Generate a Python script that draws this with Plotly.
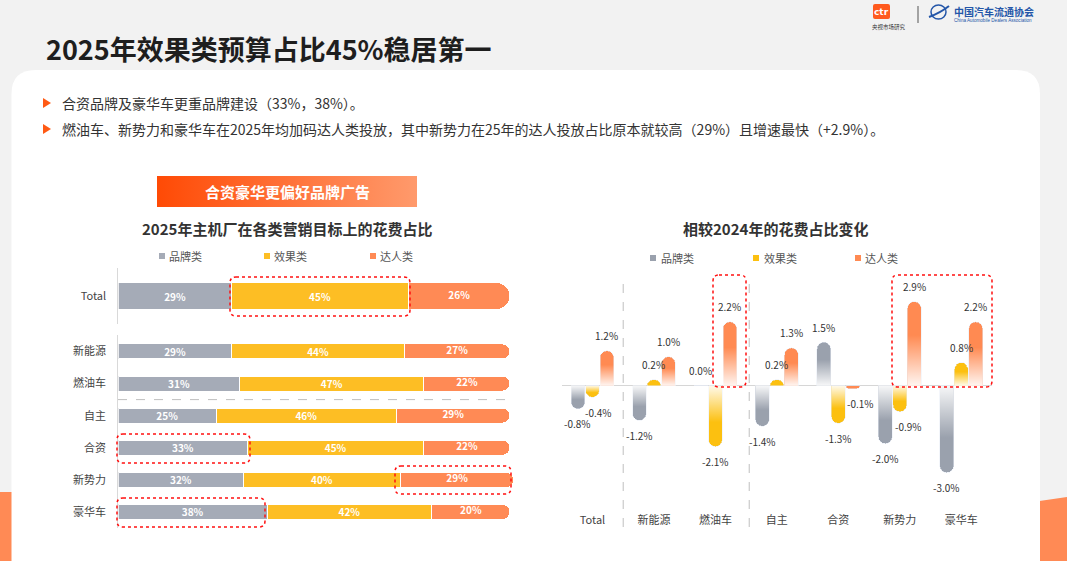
import plotly.graph_objects as go

W, H = 1067, 561

# left chart: share of spend per marketing goal (2025)
series = ["品牌类", "效果类", "达人类"]
total_label = ["Total"]
total_share = [29, 45, 26]
seg_cats = ["新能源", "燃油车", "自主", "合资", "新势力", "豪华车"]
brand_share = [29, 31, 25, 33, 32, 38]
perf_share = [44, 47, 46, 45, 40, 42]
kol_share = [27, 22, 29, 22, 29, 20]

# right chart: change vs 2024 (percentage points)
change_cats = ["Total", "新能源", "燃油车", "自主", "合资", "新势力", "豪华车"]
brand_change = [-0.8, -1.2, 0.0, -1.4, 1.5, -2.0, -3.0]
perf_change = [-0.4, 0.2, -2.1, 0.2, -1.3, -0.9, 0.8]
kol_change = [1.2, 1.0, 2.2, 1.3, -0.1, 2.9, 2.2]

FONT = "Noto Sans CJK SC"
left_colors = ["#a5abb7", "#fdbe24", "#ff8a55"]
right_colors = ["#9aa1ad", "#fcc010", "#ff8a52"]
# small sideways nudges of a few crowded value labels (series, category) -> px
label_nudge = {(1, 0): 6, (2, 4): 8, (1, 5): 9}


def px(x):
    return x / W


def py(y):
    return 1 - y / H


def rrect(x0, y0, x1, y1, r):
    # rounded rectangle, pixel coords -> paper path
    def p(x, y):
        return f"{px(x):.5f},{py(y):.5f}"
    return (f"M{p(x0 + r, y0)} L{p(x1 - r, y0)} Q{p(x1, y0)} {p(x1, y0 + r)} "
            f"L{p(x1, y1 - r)} Q{p(x1, y1)} {p(x1 - r, y1)} L{p(x0 + r, y1)} "
            f"Q{p(x0, y1)} {p(x0, y1 - r)} L{p(x0, y0 + r)} Q{p(x0, y0)} {p(x0 + r, y0)} Z")


fig = go.Figure()
label_font = dict(color="white", size=10, family=FONT)
annotations = []


def stacked_rows(cats, shares, width, xa, ya):
    for i, (name, vals) in enumerate(zip(series, shares)):
        mk = dict(color=left_colors[i], line=dict(color="white", width=1))
        if i == 2:
            # rounded end shrinks inside text, so the last segment is labelled separately
            mk["cornerradius"] = "50%"
        fig.add_trace(go.Bar(
            y=cats, x=vals, orientation="h", name=name, marker=mk, width=width,
            texttemplate="<b>%{x}%</b>" if i < 2 else None,
            textposition="inside" if i < 2 else "none", insidetextanchor="middle",
            textfont=label_font, constraintext="none",
            xaxis=xa, yaxis=ya, showlegend=False, hoverinfo="skip"))
    mids = [a + b + c / 2 for a, b, c in zip(*shares)]
    fig.add_trace(go.Scatter(
        x=mids, y=cats, mode="text", text=[f"<b>{v}%</b>" for v in shares[2]],
        textfont=label_font, xaxis=xa, yaxis=ya, showlegend=False, hoverinfo="skip"))


stacked_rows(total_label, [[total_share[0]], [total_share[1]], [total_share[2]]], 0.48, "x", "y")
stacked_rows(seg_cats, [brand_share, perf_share, kol_share], 0.47, "x2", "y2")

# ---- right chart, grouped change bars
offsets = [-0.236, 0.0, 0.236]
bw = 0.225
all_changes = [brand_change, perf_change, kol_change]
for i, (name, vals) in enumerate(zip(series, all_changes)):
    xs = [k + offsets[i] for k in range(len(change_cats))]
    fig.add_trace(go.Bar(
        x=xs, y=vals, name=name, width=bw,
        marker=dict(color=right_colors[i], cornerradius="50%"),
        xaxis="x3", yaxis="y3", showlegend=False, hoverinfo="skip"))
    # value labels a little away from the bar ends
    for k, (x, v) in enumerate(zip(xs, vals)):
        annotations.append(dict(xref="x3", yref="y3", x=x, y=v, text=f"{v:.1f}%", showarrow=False,
                                xanchor="center", yanchor="middle", borderpad=0,
                                xshift=label_nudge.get((i, k), 0), yshift=15 if v >= 0 else -15,
                                font=dict(family=FONT, size=10, color="#333333")))

# white fade near the baseline of each bar
fade = [[0, "rgba(255,255,255,0.92)"], [0.6, "rgba(255,255,255,0)"], [1, "rgba(255,255,255,0)"]]
for i, vals in enumerate(all_changes):
    for k, v in enumerate(vals):
        if abs(v) < 0.3:
            continue
        x0 = k + offsets[i] - bw / 2
        x1 = k + offsets[i] + bw / 2
        fig.add_trace(go.Scatter(
            x=[x0, x1, x1, x0, x0], y=[0, 0, v, v, 0], mode="none", fill="toself",
            fillgradient=dict(type="vertical", start=0, stop=v, colorscale=fade),
            xaxis="x3", yaxis="y3", showlegend=False, hoverinfo="skip"))

# orange banner (pixel space overlay)
fig.add_trace(go.Scatter(
    x=[157, 417, 417, 157, 157], y=[176, 176, 207, 207, 176], mode="none", fill="toself",
    fillgradient=dict(type="horizontal", start=157, stop=417,
                      colorscale=[[0, "#ff4a05"], [1, "#ff9a6c"]]),
    xaxis="x4", yaxis="y4", showlegend=False, hoverinfo="skip"))

shapes = []
# background corners and white card
shapes.append(dict(type="path", xref="paper", yref="paper", layer="below",
                   path=f"M{px(0)},{py(492)} L{px(14)},{py(492)} L{px(14)},{py(561)} L{px(0)},{py(561)} Z",
                   fillcolor="#ff8a55", line=dict(width=0)))
shapes.append(dict(type="path", xref="paper", yref="paper", layer="below",
                   path=f"M{px(1036)},{py(501.5)} L{px(1067)},{py(497)} L{px(1067)},{py(561)} L{px(1036)},{py(561)} Z",
                   fillcolor="#ff8a55", line=dict(width=0)))
cx0, cy0, cx1, cy1, r = 11.5, 70, 1040, 600, 24
card = (f"M{px(cx0)},{py(cy1)} L{px(cx0)},{py(cy0 + r)} Q{px(cx0)},{py(cy0)} {px(cx0 + r)},{py(cy0)} "
        f"L{px(cx1 - r)},{py(cy0)} Q{px(cx1)},{py(cy0)} {px(cx1)},{py(cy0 + r)} L{px(cx1)},{py(cy1)} Z")
shapes.append(dict(type="path", xref="paper", yref="paper", layer="below", path=card,
                   fillcolor="white", line=dict(width=0)))

# bullet triangles
for yc in [103, 129]:
    shapes.append(dict(type="path", xref="paper", yref="paper",
                       path=f"M{px(43)},{py(yc - 5)} L{px(51)},{py(yc)} L{px(43)},{py(yc + 5)} Z",
                       fillcolor="#ff5a14", line=dict(width=0)))

# left separator between fuel types and brand groups
shapes.append(dict(type="line", xref="paper", yref="y2", x0=px(118), x1=px(507), y0=1.5, y1=1.5,
                   line=dict(color="#bfbfbf", width=1, dash="dash")))
# right vertical separators
for xs in [0.5, 2.55]:
    shapes.append(dict(type="line", xref="x3", yref="paper", x0=xs, x1=xs, y0=py(527), y1=py(277),
                       line=dict(color="#bfbfbf", width=1, dash="dash")))

# red dotted highlight boxes
for box in [(230, 277, 410, 316), (117, 434, 250, 463), (395, 466, 511, 494), (117, 498, 265, 527),
            (713, 275, 746, 387), (892, 275, 992, 387)]:
    shapes.append(dict(type="path", xref="paper", yref="paper", path=rrect(*box, 6),
                       line=dict(color="#ff1010", width=1.5, dash="dot")))

# legend squares
for xs, c in zip([159, 264, 370], left_colors):
    shapes.append(dict(type="rect", xref="paper", yref="paper", x0=px(xs), x1=px(xs + 6),
                       y0=py(259), y1=py(253), fillcolor=c, line=dict(width=0)))
for xs, c in zip([650, 753, 855], right_colors):
    shapes.append(dict(type="rect", xref="paper", yref="paper", x0=px(xs), x1=px(xs + 6),
                       y0=py(261), y1=py(255), fillcolor=c, line=dict(width=0)))

# logos
shapes.append(dict(type="path", xref="paper", yref="paper", path=rrect(873, 4, 890, 19, 2),
                   fillcolor="#ff5a1e", line=dict(width=0)))
shapes.append(dict(type="line", xref="paper", yref="paper", x0=px(918), x1=px(918), y0=py(6), y1=py(23),
                   line=dict(color="#555555", width=1)))
shapes.append(dict(type="circle", xref="paper", yref="paper", x0=px(931), x1=px(946), y0=py(19), y1=py(5),
                   line=dict(color="#2456a8", width=1.5)))
shapes.append(dict(type="path", xref="paper", yref="paper",
                   path=f"M{px(929)},{py(17)} Q{px(940)},{py(13)} {px(949)},{py(6)}",
                   line=dict(color="#2456a8", width=2)))


def txt(x, y, text, size, color="#333333", anchor="left", bold=False, family=FONT):
    annotations.append(dict(xref="paper", yref="paper", x=px(x), y=py(y), text=text, showarrow=False,
                            xanchor=anchor, yanchor="middle",
                            font=dict(family=family, size=size, color=color, weight=700 if bold else 400)))


txt(44, 48, "2025年效果类预算占比45%稳居第一", 27, "#1e1e1e", bold=True)
txt(60, 103, "合资品牌及豪华车更重品牌建设（33%，38%）。", 14, "#333333")
txt(60, 129, "燃油车、新势力和豪华车在2025年均加码达人类投放，其中新势力在25年的达人投放占比原本就较高（29%）且增速最快（+2.9%）。",
    14, "#333333")
txt(287, 191.5, "合资豪华更偏好品牌广告", 15, "white", anchor="center", bold=True)
txt(287, 228, "2025年主机厂在各类营销目标上的花费占比", 15, "#333333", anchor="center", bold=True)
txt(775, 228, "相较2024年的花费占比变化", 15, "#333333", anchor="center", bold=True)
for xs, name in zip([167, 272, 378], series):
    txt(xs, 256, name, 11, "#555555")
for xs, name in zip([659, 762, 863], series):
    txt(xs, 258, name, 11, "#555555")
txt(881.5, 11.5, "ctr", 9, "white", anchor="center", bold=True, family="DejaVu Sans")
txt(889, 27, "央视市场研究", 5.5, "#333333", anchor="center")
txt(952, 11.5, "中国汽车流通协会", 10, "#2456a8", bold=True)
txt(952, 20.5, "China Automobile Dealers Association", 4.6, "#2456a8", family="Liberation Sans")

hidden = dict(visible=False)
fig.update_layout(
    width=W, height=H, margin=dict(l=0, r=0, t=0, b=0),
    paper_bgcolor="#f2f2f2", plot_bgcolor="rgba(0,0,0,0)",
    barmode="stack", showlegend=False, font=dict(family=FONT),
    xaxis=dict(domain=[px(118.3), px(517.8)], range=[0, 102], anchor="y", **hidden),
    yaxis=dict(domain=[py(324), py(268)], range=[-0.5, 0.5], anchor="x", type="category",
               showline=True, linecolor="#d9d9d9", linewidth=1, showgrid=False, zeroline=False,
               ticks="", ticklabelstandoff=9, tickfont=dict(size=11, color="#444444", family=FONT)),
    xaxis2=dict(domain=[px(118.3), px(517.8)], range=[0, 102], anchor="y2", **hidden),
    yaxis2=dict(domain=[py(528), py(335.4)], range=[5.5, -0.5], anchor="x2", type="category",
                showline=True, linecolor="#d9d9d9", linewidth=1, showgrid=False, zeroline=False,
                ticks="", ticklabelstandoff=9, tickfont=dict(size=11, color="#444444", family=FONT)),
    xaxis3=dict(domain=[px(561.75), px(992)], range=[-0.5, 6.5], anchor="y3",
                tickvals=list(range(len(change_cats))), ticktext=change_cats,
                showgrid=False, zeroline=False, showline=False, ticks="", ticklabelstandoff=4,
                tickfont=dict(size=11, color="#444444", family=FONT)),
    yaxis3=dict(domain=[py(508), py(270)], range=[-4.22, 3.99], anchor="x3",
                showgrid=False, showticklabels=False, ticks="", showline=False,
                zeroline=True, zerolinecolor="#d6d6d6", zerolinewidth=1.2),
    xaxis4=dict(domain=[0, 1], range=[0, W], anchor="y4", **hidden),
    yaxis4=dict(domain=[0, 1], range=[H, 0], anchor="x4", **hidden),
    shapes=shapes, annotations=annotations,
)

fig.write_html("out.html", config={"displayModeBar": False},
               post_script="document.body.style.margin='0';")
